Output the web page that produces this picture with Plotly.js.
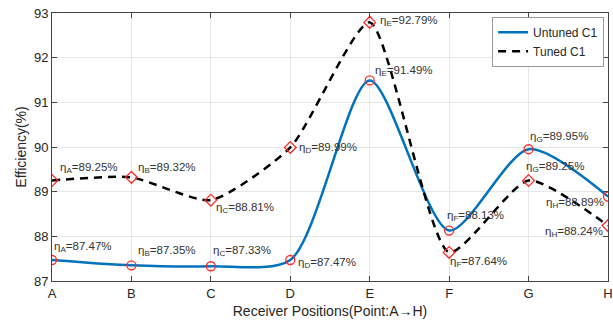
<!DOCTYPE html>
<html><head><meta charset="utf-8">
<script src="https://cdn.plot.ly/plotly-3.0.1.min.js"></script>
<style>html,body{margin:0;padding:0;background:#fff}#chart{width:613px;height:328px}</style>
</head><body><div id="chart"></div>
<script>
const positions = ['A','B','C','D','E','F','G','H'];
const untuned = [87.47, 87.35, 87.33, 87.47, 91.49, 88.13, 89.95, 88.89];
const tuned = [89.25, 89.32, 88.81, 89.99, 92.79, 87.64, 89.25, 88.24];
const untunedLabelPos = [[0.0,87.76],[1.06,87.67],[2.0,87.67],[3.07,87.40],[4.04,91.71],[4.95,88.45],[5.99,90.22],[6.20,88.74]];
const tunedLabelPos = [[0.07,89.53],[1.06,89.53],[2.04,88.63],[3.09,89.98],[4.10,92.83],[4.99,87.42],[5.94,89.55],[6.18,88.09]];

const xi = positions.map((_, i) => i);
const font = 'Arial, "Liberation Sans", sans-serif';
const red = '#ff2a2a';

const traces = [
  {x: xi, y: untuned, mode: 'lines', name: 'Untuned C1', line: {color: '#0072BD', width: 2.5, shape: 'spline', smoothing: 0.75}},
  {x: xi, y: tuned, mode: 'lines', name: 'Tuned C1', line: {color: '#000', width: 2.5, dash: '8px,6px', shape: 'spline', smoothing: 0.6}},
  {x: xi, y: untuned, mode: 'markers', showlegend: false, marker: {symbol: 'circle-open', size: 9, color: red, line: {width: 1.3, color: red}}},
  {x: xi, y: tuned, mode: 'markers', showlegend: false, marker: {symbol: 'diamond-open', size: 9, color: red, line: {width: 1.3, color: red}}}
];

const annotations = [];
positions.forEach((p, i) => {
  annotations.push({x: untunedLabelPos[i][0], y: untunedLabelPos[i][1], xref: 'x', yref: 'y', xanchor: 'left', yanchor: 'middle', showarrow: false,
    text: 'η<sub>' + p + '</sub>=' + untuned[i].toFixed(2) + '%', font: {family: font, size: 11.5, color: '#333'}});
  annotations.push({x: tunedLabelPos[i][0], y: tunedLabelPos[i][1], xref: 'x', yref: 'y', xanchor: 'left', yanchor: 'middle', showarrow: false,
    text: 'η<sub>' + p + '</sub>=' + tuned[i].toFixed(2) + '%', font: {family: font, size: 11.5, color: '#333'}});
});

const layout = {
  width: 613, height: 328,
  margin: {l: 52, r: 5, t: 13, b: 47},
  paper_bgcolor: '#fff', plot_bgcolor: '#fff',
  font: {family: font, color: '#262626', size: 13},
  showlegend: true,
  legend: {x: 0.993, y: 0.986, xanchor: 'right', yanchor: 'top', bgcolor: '#fff', bordercolor: '#999', borderwidth: 1,
    font: {family: font, size: 12, color: '#262626'}, tracegroupgap: 0},
  xaxis: {range: [0, 7], tickvals: xi, ticktext: positions, showgrid: true, gridcolor: '#e6e6e6', zeroline: false,
    showline: true, linecolor: '#444', linewidth: 1, mirror: 'ticks', ticks: 'inside', ticklen: 5, tickcolor: '#444',
    tickfont: {family: font, size: 13, color: '#262626'},
    title: {text: 'Receiver Positions(Point:A→H)', font: {family: font, size: 14, color: '#262626'}, standoff: 6}},
  yaxis: {range: [87, 93], dtick: 1, showgrid: true, gridcolor: '#e6e6e6', zeroline: false,
    showline: true, linecolor: '#444', linewidth: 1, mirror: 'ticks', ticks: 'inside', ticklen: 5, tickcolor: '#444',
    tickfont: {family: font, size: 13, color: '#262626'},
    title: {text: 'Efficiency(%)', font: {family: font, size: 14, color: '#262626'}, standoff: 4}},
  annotations: annotations
};
Plotly.newPlot('chart', traces, layout, {displayModeBar: false, staticPlot: true});
</script>
</body></html>
